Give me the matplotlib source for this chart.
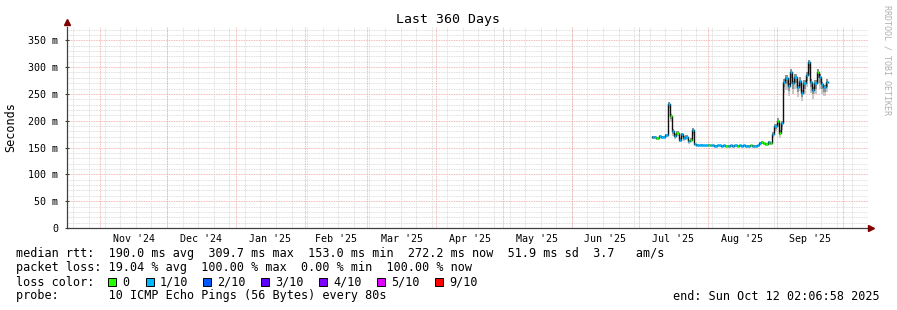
import numpy as np
import pandas as pd
import matplotlib
matplotlib.use("Agg")
import matplotlib.pyplot as plt
import matplotlib.dates as mdates
from datetime import datetime, timedelta

# --- data (daily medians, ms) ---
first_day = "2025-07-07"
median_ms = [169, 170, 168, 172, 169, 170, 173, 231, 208, 180,
             172, 178, 165, 175, 168, 170, 162, 165, 182, 156,
             155, 154, 155, 154, 154, 155, 154, 154, 153, 154,
             154, 153, 154, 153, 153, 154, 153, 154, 153, 154,
             153, 154, 153, 153, 154, 153, 153, 154, 158, 161,
             159, 157, 160, 158, 175, 190, 200, 178, 195, 272,
             280, 265, 290, 270, 282, 262, 275, 252, 270, 285,
             309, 272, 258, 270, 290, 282, 268, 262, 272]
# loss in tenths per day (0 -> green, 1 -> cyan)
loss_tenths = [1, 1, 0, 1, 1, 1, 1, 1, 0, 1,
               1, 0, 1, 1, 1, 1, 1, 0, 1, 1,
               1, 1, 1, 1, 1, 0, 1, 1, 1, 1,
               1, 1, 1, 0, 1, 1, 1, 1, 0, 1,
               1, 1, 1, 1, 0, 1, 1, 1, 1, 0,
               0, 0, 1, 0, 1, 1, 0, 0, 1, 1,
               1, 1, 1, 1, 1, 1, 1, 1, 1, 1,
               1, 1, 1, 1, 0, 1, 1, 1, 1]
smoke_below = [3, 3, 3, 3, 3, 3, 3, 8, 10, 8,
               6, 6, 5, 6, 5, 5, 5, 5, 8, 2,
               2, 2, 2, 2, 2, 2, 2, 2, 2, 2,
               2, 2, 2, 2, 2, 2, 2, 2, 2, 2,
               2, 2, 2, 2, 2, 2, 2, 2, 4, 5,
               4, 4, 5, 4, 8, 10, 12, 10, 12, 20,
               22, 18, 22, 20, 22, 18, 20, 16, 20, 22,
               25, 20, 18, 20, 22, 22, 18, 16, 18]
smoke_above = [2, 2, 2, 2, 2, 2, 2, 4, 4, 4,
               3, 3, 3, 3, 3, 3, 3, 3, 4, 1,
               1, 1, 1, 1, 1, 1, 1, 1, 1, 1,
               1, 1, 1, 1, 1, 1, 1, 1, 1, 1,
               1, 1, 1, 1, 1, 1, 1, 1, 2, 2,
               2, 2, 2, 2, 4, 4, 5, 4, 5, 6,
               6, 5, 6, 5, 6, 5, 6, 5, 6, 6,
               4, 6, 5, 6, 6, 6, 5, 5, 5]

loss_labels = ["0", "1/10", "2/10", "3/10", "4/10", "5/10", "9/10"]
loss_colors = ["#26ff00", "#00b8ff", "#0059ff", "#5e00ff", "#7e00ff", "#dd00ff", "#ff0000"]

t_start = datetime(2024, 10, 17, 2, 6, 58)
t_end = datetime(2025, 10, 12, 2, 6, 58)

W, H = 897, 310
MONO = "DejaVu Sans Mono"
plt.rcParams["font.family"] = MONO

fig = plt.figure(figsize=(W / 100, H / 100), dpi=100)
x0, x1, ytop, ybot = 67, 868, 26.6, 228
ax = fig.add_axes([x0 / W, 1 - ybot / H, (x1 - x0) / W, (ybot - ytop) / H])

days = pd.date_range(first_day, periods=len(median_ms), freq="D")
t = mdates.date2num(days.to_pydatetime())
med = np.array(median_ms, float)
lo = med - np.array(smoke_below)
hi = med + np.array(smoke_above)

# grid
for v in range(10, 380, 10):
    if v % 50:
        ax.axhline(v, color="#d4d4d4", lw=0.6, ls=(0, (1, 1)), zorder=0)
    else:
        ax.axhline(v, color="#f0a0a0", lw=0.6, ls=(0, (1, 1)), zorder=0)
for d in pd.date_range("2024-10-20", t_end, freq="7D"):
    ax.axvline(mdates.date2num(d), color="#d4d4d4", lw=0.6, ls=(0, (1, 1)), zorder=0)
month_starts = pd.date_range("2024-11-01", t_end, freq="MS")
for d in month_starts:
    ax.axvline(mdates.date2num(d), color="#f0a0a0", lw=0.6, ls=(0, (1, 1)), zorder=0)

# smoke
tt = np.append(t, t[-1] + 1)
ax.fill_between(tt, np.append(lo, lo[-1]), np.append(hi, hi[-1]), step="post",
                color="#c8c8c8", lw=0, zorder=2)
ax.fill_between(tt, np.append(med - np.array(smoke_below) / 2, lo[-1]),
                np.append(hi, hi[-1]), step="post", color="#909090", lw=0, zorder=2)

# median line
ax.step(tt, np.append(med, med[-1]), where="post", color="#101010", lw=1.0, zorder=3)
cols = [loss_colors[k] for k in loss_tenths]
ax.hlines(med, t, t + 1, colors=cols, lw=1.8, zorder=4)

ax.set_xlim(mdates.date2num(t_start), mdates.date2num(t_end))
ax.set_ylim(0, 375.5)

ax.set_yticks(range(0, 351, 50))
ax.set_yticklabels(["0"] + [f"{v} m" for v in range(50, 351, 50)], fontsize=7.2)
label_pos = [mdates.date2num(d) + (pd.Timestamp(d).days_in_month) / 2 for d in month_starts[:-1]]
ax.set_xticks(label_pos)
ax.set_xticklabels([d.strftime("%b '%y") for d in month_starts[:-1]], fontsize=7.2)
ax.tick_params(axis="x", length=0, pad=4)
ax.tick_params(axis="y", length=3, direction="inout", pad=5, color="#404040")

for s in ["top", "right"]:
    ax.spines[s].set_visible(False)
for s in ["left", "bottom"]:
    ax.spines[s].set_color("#404040")
    ax.spines[s].set_linewidth(0.9)

# axis arrows
fig.lines.append(plt.Line2D([x0 / W], [1 - 22 / H], marker="^", ms=4, color="#800000",
                            transform=fig.transFigure))
fig.lines.append(plt.Line2D([871 / W], [1 - ybot / H], marker=">", ms=4, color="#800000",
                            transform=fig.transFigure))

def px(x, y):
    return x / W, 1 - y / H

fig.text(*px(448, 19), "Last 360 Days", ha="center", va="center", fontsize=9.5)
fig.text(*px(11, 127), "Seconds", ha="center", va="center", rotation=90, fontsize=8.5)
fig.text(*px(887, 60), "RRDTOOL / TOBI OETIKER", ha="center", va="center", rotation=270,
         fontsize=6, color="#b0b0b0")

fs = 8.5
fig.text(*px(16, 254), "median rtt:  190.0 ms avg  309.7 ms max  153.0 ms min  272.2 ms now  51.9 ms sd  3.7   am/s",
         va="center", fontsize=fs)
fig.text(*px(16, 268), "packet loss: 19.04 % avg  100.00 % max  0.00 % min  100.00 % now",
         va="center", fontsize=fs)
fig.text(*px(16, 282), "loss color:", va="center", fontsize=fs)
box_x = [108, 146, 203, 261, 319, 377, 435]
for bx, lab, c in zip(box_x, loss_labels, loss_colors):
    fig.patches.append(plt.Rectangle(px(bx, 286), 8 / W, 8 / H, transform=fig.transFigure,
                                     facecolor=c, edgecolor="black", lw=0.7))
    fig.text(*px(bx + 14, 282), lab, va="center", fontsize=fs)
fig.text(*px(16, 296), "probe:       10 ICMP Echo Pings (56 Bytes) every 80s", va="center", fontsize=fs)
fig.text(*px(880, 296), "end: Sun Oct 12 02:06:58 2025", ha="right", va="center", fontsize=fs)

fig.savefig("out.png", dpi=100)
